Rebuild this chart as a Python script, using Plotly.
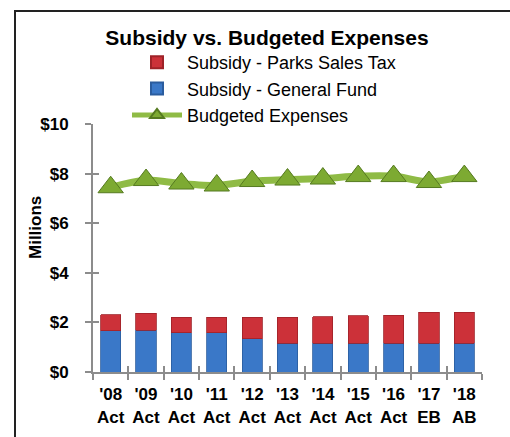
import plotly.graph_objects as go

categories = ["'08<br>Act", "'09<br>Act", "'10<br>Act", "'11<br>Act", "'12<br>Act", "'13<br>Act",
              "'14<br>Act", "'15<br>Act", "'16<br>Act", "'17<br>EB", "'18<br>AB"]
general_fund = [1.67, 1.69, 1.58, 1.58, 1.34, 1.16, 1.16, 1.16, 1.16, 1.16, 1.16]
parks_sales_tax = [0.63, 0.68, 0.62, 0.62, 0.86, 1.04, 1.07, 1.10, 1.12, 1.24, 1.24]
budgeted_expenses = [7.45, 7.74, 7.60, 7.52, 7.70, 7.76, 7.80, 7.90, 7.90, 7.66, 7.90]
y_ticks = [0, 2, 4, 6, 8, 10]
y_tick_labels = ["$0", "$2", "$4", "$6", "$8", "$10"]

FONT = "Arial, Liberation Sans, sans-serif"
W, H = 510, 437
# plot area in page pixels: x 93..482, y 124..372
L, T = 93, 124
R = W - 482
B = H - 372
pw, ph = W - L - R, H - T - B

def px(x):  # page x -> paper
    return (x - L) / pw

def py(y):  # page y -> paper
    return (H - B - y) / ph

fig = go.Figure()
fig.add_trace(go.Bar(
    x=categories, y=general_fund, name="Subsidy - General Fund",
    marker=dict(color="#3a78c8", line=dict(color="#2a5c9e", width=0.8)),
    legendrank=2, width=0.57,
))
fig.add_trace(go.Bar(
    x=categories, y=parks_sales_tax, name="Subsidy - Parks Sales Tax",
    marker=dict(color="#cc3139", line=dict(color="#9e2228", width=0.8)),
    legendrank=1, width=0.57,
))
fig.add_trace(go.Scatter(
    x=categories, y=budgeted_expenses, name="Budgeted Expenses",
    mode="lines+markers",
    line=dict(color="#8fbb45", width=7, shape="spline", smoothing=0.6),
    marker=dict(symbol="triangle-up", size=22, color="#7daa32",
                line=dict(color="#557a20", width=1)),
    legendrank=3,
))
# invisible trace to carry the inner half of the crossing tick marks
fig.add_trace(go.Scatter(
    x=categories, y=budgeted_expenses, xaxis="x2", yaxis="y2",
    mode="markers", marker=dict(opacity=0), showlegend=False, hoverinfo="skip",
))

fig.update_layout(
    width=W, height=H,
    margin=dict(l=L, r=R, t=T, b=B, autoexpand=False),
    paper_bgcolor="white", plot_bgcolor="white",
    barmode="stack",
    font=dict(family=FONT, color="black"),
    title=dict(text="<b>Subsidy vs. Budgeted Expenses</b>", x=267 / W, xanchor="center",
               y=1 - 38 / H, yanchor="middle", font=dict(size=21, family=FONT, color="black")),
    legend=dict(x=px(127), xanchor="left", y=py(44), yanchor="top", traceorder="normal",
                font=dict(size=18, family=FONT, color="black"),
                bgcolor="rgba(0,0,0,0)", tracegroupgap=0, itemwidth=50,
                itemsizing="constant"),
    xaxis=dict(type="category", range=[-0.5, 10.5], showgrid=False, automargin=False,
               showline=True, linecolor="#8c8c8c", linewidth=2, tickangle=0,
               ticks="outside", tickson="boundaries", ticklen=6, tickcolor="#8c8c8c", tickwidth=2,
               ticklabelstandoff=6,
               tickfont=dict(size=17, family=FONT, color="black"), tickprefix="<b>", ticksuffix="</b>"),
    yaxis=dict(range=[0, 10], showgrid=False, zeroline=False, automargin=False,
               showline=True, linecolor="#8c8c8c", linewidth=2,
               tickvals=y_ticks, ticktext=["<b>" + t + "</b>" for t in y_tick_labels],
               ticks="outside", ticklen=6, tickcolor="#8c8c8c", tickwidth=2,
               ticklabelstandoff=13,
               tickfont=dict(size=17, family=FONT, color="black")),
    xaxis2=dict(type="category", range=[-0.5, 10.5], overlaying="x", showgrid=False, automargin=False,
                showline=False, ticks="inside", tickson="boundaries", ticklen=6,
                tickcolor="#8c8c8c", tickwidth=2, showticklabels=False, side="bottom"),
    yaxis2=dict(range=[0, 10], overlaying="y", showgrid=False, zeroline=False, showline=False,
                tickvals=y_ticks, ticks="inside", ticklen=6, tickcolor="#8c8c8c", tickwidth=2,
                showticklabels=False, side="left", automargin=False),
    annotations=[dict(text="<b>Millions</b>", textangle=-90, xref="paper", yref="paper",
                      x=px(35), y=py(228), xanchor="center", yanchor="middle", showarrow=False,
                      font=dict(size=17, family=FONT, color="black"))],
    shapes=[
        dict(type="rect", xref="paper", yref="paper", x0=px(15), x1=px(540), y0=py(470), y1=py(11),
             line=dict(color="#222222", width=2), fillcolor="rgba(0,0,0,0)", layer="below"),
    ],
)

fig.write_html(
    "out.html",
    config={"displayModeBar": False},
    post_script=(
        "document.documentElement.style.overflow='hidden';"
        "document.body.style.margin='0';"
        "document.body.style.overflow='hidden';"
    ),
)
